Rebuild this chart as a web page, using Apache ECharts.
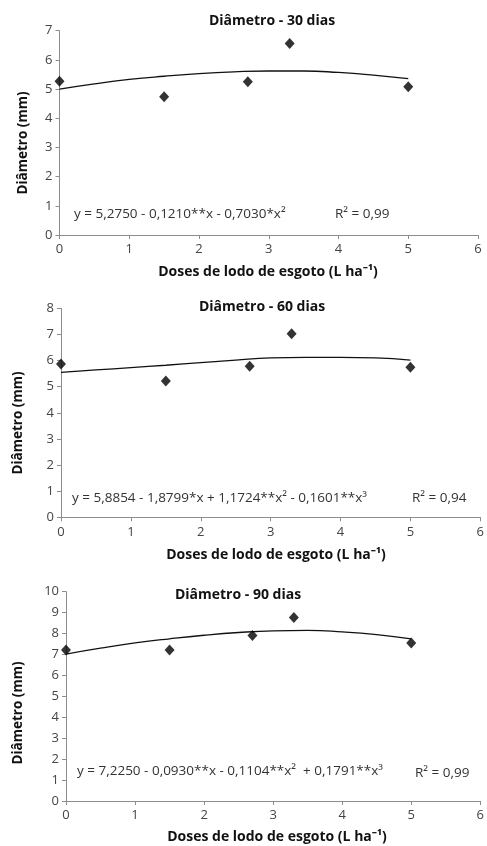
<!DOCTYPE html>
<html>
<head>
<meta charset="utf-8">
<script src="https://cdn.jsdelivr.net/npm/echarts@6/dist/echarts.min.js"></script>
<style>html,body{margin:0;padding:0;background:#fff}#c{width:487px;height:846px}</style>
</head>
<body>
<div id="c"></div>
<script>
// Data
const doses = [0, 1.5, 2.7, 3.3, 5];
const diam30 = [5.27, 4.74, 5.25, 6.56, 5.08];
const diam60 = [5.87, 5.22, 5.78, 7.03, 5.74];
const diam90 = [7.21, 7.21, 7.91, 8.77, 7.55];
// Trend lines, points
const curveX = [0, 0.5, 1, 1.5, 2, 2.5, 3, 3.5, 4, 4.5, 5];
const fit30 = [5.0, 5.18, 5.33, 5.44, 5.53, 5.59, 5.62, 5.62, 5.57, 5.48, 5.36];
const fit60 = [5.55, 5.64, 5.73, 5.82, 5.92, 6.02, 6.10, 6.12, 6.12, 6.10, 6.02];
const fit90 = [7.02, 7.30, 7.55, 7.75, 7.92, 8.05, 8.13, 8.15, 8.08, 7.95, 7.75];
const titles = ['Diâmetro - 30 dias', 'Diâmetro - 60 dias', 'Diâmetro - 90 dias'];
const equations = [
  'y = 5,2750 - 0,1210**x - 0,7030*x²',
  'y = 5,8854 - 1,8799*x + 1,1724**x² - 0,1601**x³',
  'y = 7,2250 - 0,0930**x - 0,1104**x²  + 0,1791**x³'
];
const r2 = ['R² = 0,99', 'R² = 0,94', 'R² = 0,99'];
const yMax = [7, 8, 10];
const xName = 'Doses de lodo de esgoto (L ha⁻¹)';
const yName = 'Diâmetro (mm)';

const FONT = 'Open Sans';
const grids = [
  {left: 59.5, top: 30.7, width: 418.5, height: 204.3},
  {left: 61, top: 308.3, width: 429.6, height: 209},
  {left: 66, top: 591.7, width: 420.8, height: 209.3}
];
const titlePos = [[267, 9], [257, 295], [233, 583]];
const eqPos = [[74, 216], [72, 500], [77, 773]];
const r2Pos = [[335, 216], [412, 500], [415, 775]];
const yNamePos = [[23, 143], [18, 423], [18, 713]];
const xNamePos = [[268, 272], [276, 555], [277, 837]];

const axisLine = {lineStyle: {color: '#8c8c8c', width: 1}};
const series = [];
const xAxis = [], yAxis = [], graphic = [], title = [];
const pts = [diam30, diam60, diam90];
const fits = [fit30, fit60, fit90];
for (let i = 0; i < 3; i++) {
  xAxis.push({gridIndex: i, type: 'value', min: 0, max: 6, interval: 1,
    axisLine: Object.assign({show: true, onZero: false}, axisLine),
    axisTick: {show: true, length: 4, lineStyle: {color: '#8c8c8c'}},
    splitLine: {show: false},
    axisLabel: {color: '#444', fontFamily: FONT, fontSize: 13, margin: 8}});
  yAxis.push({gridIndex: i, type: 'value', min: 0, max: yMax[i], interval: 1,
    axisLine: Object.assign({show: true, onZero: false}, axisLine),
    axisTick: {show: true, length: 4, lineStyle: {color: '#8c8c8c'}},
    splitLine: {show: false},
    axisLabel: {color: '#444', fontFamily: FONT, fontSize: 13, margin: 7}});
  series.push({type: 'line', xAxisIndex: i, yAxisIndex: i, smooth: true, symbol: 'none',
    lineStyle: {color: '#111', width: 1.3}, data: curveX.map((x, k) => [x, fits[i][k]]), z: 2});
  series.push({type: 'scatter', xAxisIndex: i, yAxisIndex: i, symbol: 'diamond', symbolSize: [10, 11],
    itemStyle: {color: '#000'}, data: doses.map((x, k) => [x, pts[i][k]]), z: 3});
  title.push({text: titles[i], left: titlePos[i][0], top: titlePos[i][1], textAlign: 'center',
    textStyle: {fontFamily: FONT, fontSize: 14, fontWeight: 'bold', color: '#111'}});
  graphic.push({type: 'text', left: eqPos[i][0], top: eqPos[i][1] - 9,
    style: {text: equations[i], font: '13.5px "' + FONT + '"', fill: '#333'}});
  graphic.push({type: 'text', left: r2Pos[i][0], top: r2Pos[i][1] - 9,
    style: {text: r2[i], font: '13.5px "' + FONT + '"', fill: '#333'}});
  graphic.push({type: 'text', x: yNamePos[i][0], y: yNamePos[i][1], rotation: Math.PI / 2,
    style: {text: yName, font: 'bold 13.5px "' + FONT + '"', fill: '#111', align: 'center', verticalAlign: 'middle'}});
  graphic.push({type: 'text', x: xNamePos[i][0], y: xNamePos[i][1],
    style: {text: xName, font: 'bold 14px "' + FONT + '"', fill: '#111', align: 'center', verticalAlign: 'middle'}});
}
const chart = echarts.init(document.getElementById('c'), null, {renderer: 'canvas'});
chart.setOption({animation: false, backgroundColor: '#fff', title, grid: grids, xAxis, yAxis, series, graphic});
</script>
</body>
</html>
